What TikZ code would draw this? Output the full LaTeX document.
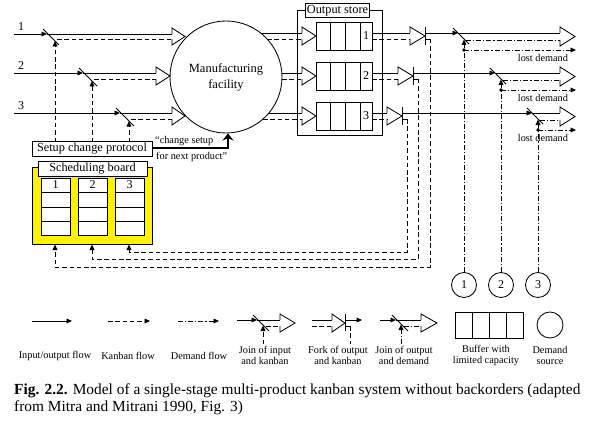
\documentclass[tikz,border=0pt]{standalone}
\usepackage{fontspec}
\setmainfont{Liberation Serif}
\usetikzlibrary{arrows.meta}
\tikzset{
  flow/.style={line width=0.85pt},
  kan/.style={line width=0.85pt, dash pattern=on 4.5pt off 2.8pt},
  dem/.style={line width=0.85pt, dash pattern=on 5pt off 2pt on 1.2pt off 2pt},
  tipp/.style={-{Triangle[length=5.5pt,width=4.8pt]}},
  lbl/.style={font=\fontsize{12}{14}\selectfont, inner sep=1pt},
  small/.style={font=\fontsize{10.3}{11}\selectfont, inner sep=0pt, align=center},
  tbox/.style={draw, line width=0.85pt, fill=white, font=\fontsize{12.3}{14}\selectfont, inner sep=1.5pt},
  dot/.style={circle, fill=black, inner sep=0pt, minimum size=3.8pt}
}
\newcommand{\HollowHead}[4]{\draw[flow,line join=miter] (#1,#3) -- (#1,#3-6) -- (#2,{(#3+#4)/2}) -- (#1,#4+6) -- (#1,#4);}
\begin{document}
\begin{tikzpicture}[x=1pt,y=-1pt]
\useasboundingbox (0,0) rectangle (591,433);

% ---------- inputs ----------
\node[lbl] (in1) at (21,27) {1};
\node[lbl] (in2) at (21,66) {2};
\node[lbl] (in3) at (21,106) {3};

\draw[flow,tipp] (14,34) -- (47,34);
\draw[flow] (43,29) -- (59,45);
\draw[kan,tipp] (55,142) -- (55,41);
\draw[flow] (47,34) -- (172,34);
\draw[kan] (57,39) -- (172,39);
\HollowHead{172}{185}{34}{39}

\draw[flow,tipp] (14,73) -- (83,73);
\draw[flow] (79,68) -- (97,86);
\draw[kan,tipp] (92,142) -- (92,81);
\draw[flow] (83,73) -- (156,73);
\draw[kan] (94,79) -- (156,79);
\HollowHead{156}{170}{73}{79}

\draw[flow,tipp] (14,113) -- (120,113);
\draw[flow] (116,108) -- (134,126);
\draw[kan,tipp] (129,142) -- (129,121);
\draw[flow] (120,113) -- (172,113);
\draw[kan] (131,119) -- (172,119);
\HollowHead{172}{185}{113}{119}

% ---------- manufacturing facility ----------
\node[draw, circle, line width=0.85pt, minimum size=112pt, inner sep=0pt, align=center,
      font=\fontsize{12.5}{16}\selectfont] (mf) at (226,77) {Manufacturing\\facility};

% circle -> buffers
\draw[flow] (261,33) -- (302,33);  \draw[kan] (267,39) -- (302,39);  \HollowHead{302}{316}{33}{39}
\draw[flow] (282,73) -- (302,73);  \draw[kan] (282,79) -- (302,79);  \HollowHead{302}{316}{73}{79}
\draw[flow] (269,113) -- (302,113); \draw[kan] (263,119) -- (302,119); \HollowHead{302}{316}{113}{119}

% ---------- output store ----------
\draw[flow] (297,10) rectangle (382,135);
\node[tbox] (os) at (337.5,10.5) {Output store};
\foreach \i/\y in {1/22,2/62,3/102}{
  \draw[flow] (316,\y) rectangle (372,\y+28);
  \draw[flow] (330,\y) -- (330,\y+28);
  \draw[flow] (345,\y) -- (345,\y+28);
  \draw[flow] (360,\y) -- (360,\y+28);
  \node[lbl] (b\i) at (366,\y+14) {\i};
}

% buffers -> forks
\draw[flow] (372,33) -- (410,33); \draw[kan] (372,39) -- (410,39); \HollowHead{410}{425}{33}{39}
\draw[flow] (425,27) -- (425,45); \draw[flow] (425,39) -- (430,39);
\draw[kan,tipp] (430,39) -- (430,267) -- (55,267) -- (55,244.5);

\draw[flow] (372,73) -- (398,73); \draw[kan] (372,79) -- (398,79); \HollowHead{398}{413}{73}{79}
\draw[flow] (413,67) -- (413,85); \draw[flow] (413,79) -- (418,79);
\draw[kan,tipp] (418,79) -- (418,259) -- (92,259) -- (92,244.5);

\draw[flow] (372,113) -- (387,113); \draw[kan] (372,119) -- (387,119); \HollowHead{387}{402}{113}{119}
\draw[flow] (402,107) -- (402,125); \draw[flow] (402,119) -- (407,119);
\draw[kan,tipp] (407,119) -- (407,252) -- (129,252) -- (129,244.5);

% ---------- demand sources ----------
\node[draw, circle, line width=0.85pt, minimum size=25pt, inner sep=0pt, lbl] (d1) at (464,285) {1};
\node[draw, circle, line width=0.85pt, minimum size=25pt, inner sep=0pt, lbl] (d2) at (501,285) {2};
\node[draw, circle, line width=0.85pt, minimum size=25pt, inner sep=0pt, lbl] (d3) at (538,285) {3};

% product 1 output / demand join
\draw[flow,tipp] (425,33) -- (458,33);
\draw[flow] (453,28) -- (469,44);
\draw[flow] (458,33) -- (560,33);
\draw[dem] (466,40) -- (560,40);
\HollowHead{560}{575}{33}{40}
\node[dot] (p1) at (464,50) {};
\draw[dem,tipp] (d1.north) -- (464,39.5);
\draw[dem,tipp] (p1.center) -- (576,50);
\node[small] (l1) at (543,58) {lost demand};

% product 2
\draw[flow,tipp] (413,73) -- (495,73);
\draw[flow] (490,68) -- (506,84);
\draw[flow] (495,73) -- (560,73);
\draw[dem] (503,80) -- (560,80);
\HollowHead{560}{575}{73}{80}
\node[dot] (p2) at (501,90) {};
\draw[dem,tipp] (d2.north) -- (501,79.5);
\draw[dem,tipp] (p2.center) -- (576,90);
\node[small] (l2) at (543,98) {lost demand};

% product 3
\draw[flow,tipp] (402,113) -- (532,113);
\draw[flow] (527,108) -- (543,124);
\draw[flow] (532,113) -- (560,113);
\draw[dem] (540,120) -- (560,120);
\HollowHead{560}{575}{113}{120}
\node[dot] (p3) at (538,130) {};
\draw[dem,tipp] (d3.north) -- (538,119.5);
\draw[dem,tipp] (p3.center) -- (576,130);
\node[small] (l3) at (543,138) {lost demand};

% ---------- setup protocol and scheduling board ----------
\node[tbox, minimum width=120pt, minimum height=14pt] (scp) at (92,149) {Setup change protocol};
\draw[line width=1pt, fill=yellow] (32,167) rectangle (152,244);
\node[tbox, minimum width=109pt, minimum height=14pt] (sb) at (92.5,169) {Scheduling board};
\foreach \i/\x in {1/41,2/78,3/115}{
  \draw[flow, fill=white] (\x,178) rectangle (\x+29,235);
  \draw[flow] (\x,192) -- (\x+29,192);
  \draw[flow] (\x,207) -- (\x+29,207);
  \draw[flow] (\x,221) -- (\x+29,221);
  \node[lbl] (c\i) at (\x+14.5,185) {\i};
}

\draw[line width=2.4pt, -{Stealth[length=7pt,width=11pt]}] (152,148) -- (228,148) -- (228,133.5);
\node[small, anchor=west] (cs1) at (155,141) {“change setup};
\node[small, anchor=west] (cs2) at (156,157) {for next product”};

% ---------- legend ----------
\draw[flow,tipp] (32,321) -- (72,321);
\draw[kan,tipp] (108,321) -- (150,321);
\draw[dem,tipp] (178,321) -- (219,321);

\draw[flow,tipp] (237,320) -- (257,320);
\draw[flow] (253,315) -- (269,331);
\draw[kan,tipp] (263,344) -- (263,325.5);
\draw[flow] (257,320) -- (280,320);
\draw[kan] (266,326) -- (280,326);
\HollowHead{280}{295}{320}{326}

\draw[flow] (312,320) -- (332,320);
\draw[kan] (312,326) -- (332,326);
\HollowHead{332}{345}{320}{326}
\draw[flow] (345,314) -- (345,331);
\draw[flow,tipp] (345,320) -- (362,320);
\draw[flow] (345,326) -- (350,326);
\draw[kan] (350,326) -- (350,344);

\draw[flow,tipp] (380,320) -- (396,320);
\draw[flow] (392,315) -- (408,331);
\draw[dem,tipp] (401,344) -- (401,324.5);
\draw[flow] (396,320) -- (421,320);
\draw[dem] (404,326) -- (421,326);
\HollowHead{421}{437}{320}{326}

\draw[flow] (455,312) rectangle (523,338);
\draw[flow] (472,312) -- (472,338);
\draw[flow] (489,312) -- (489,338);
\draw[flow] (506,312) -- (506,338);
\node[draw, circle, line width=0.85pt, minimum size=26pt, inner sep=0pt] (ds) at (550,325) {};

\node[small] (t1) at (55,356) {Input/output flow};
\node[small] (t2) at (128,356) {Kanban flow};
\node[small] (t3) at (199,356) {Demand flow};
\node[small] (t4) at (265,355.5) {Join of input\\and kanban};
\node[small] (t5) at (338,355.5) {Fork of output\\and kanban};
\node[small] (t6) at (404,355.5) {Join of output\\and demand};
\node[small] (t7) at (486,355.5) {Buffer with\\limited capacity};
\node[small] (t8) at (550,355.5) {Demand\\source};

% ---------- caption ----------
\node[anchor=north west, inner sep=0pt, align=left, font=\fontsize{15.4}{17}\selectfont] (cap) at (14,383)
  {\textbf{Fig. 2.2.} Model of a single-stage multi-product kanban system without backorders (adapted\\
   from Mitra and Mitrani 1990, Fig. 3)};
\end{tikzpicture}
\end{document}
